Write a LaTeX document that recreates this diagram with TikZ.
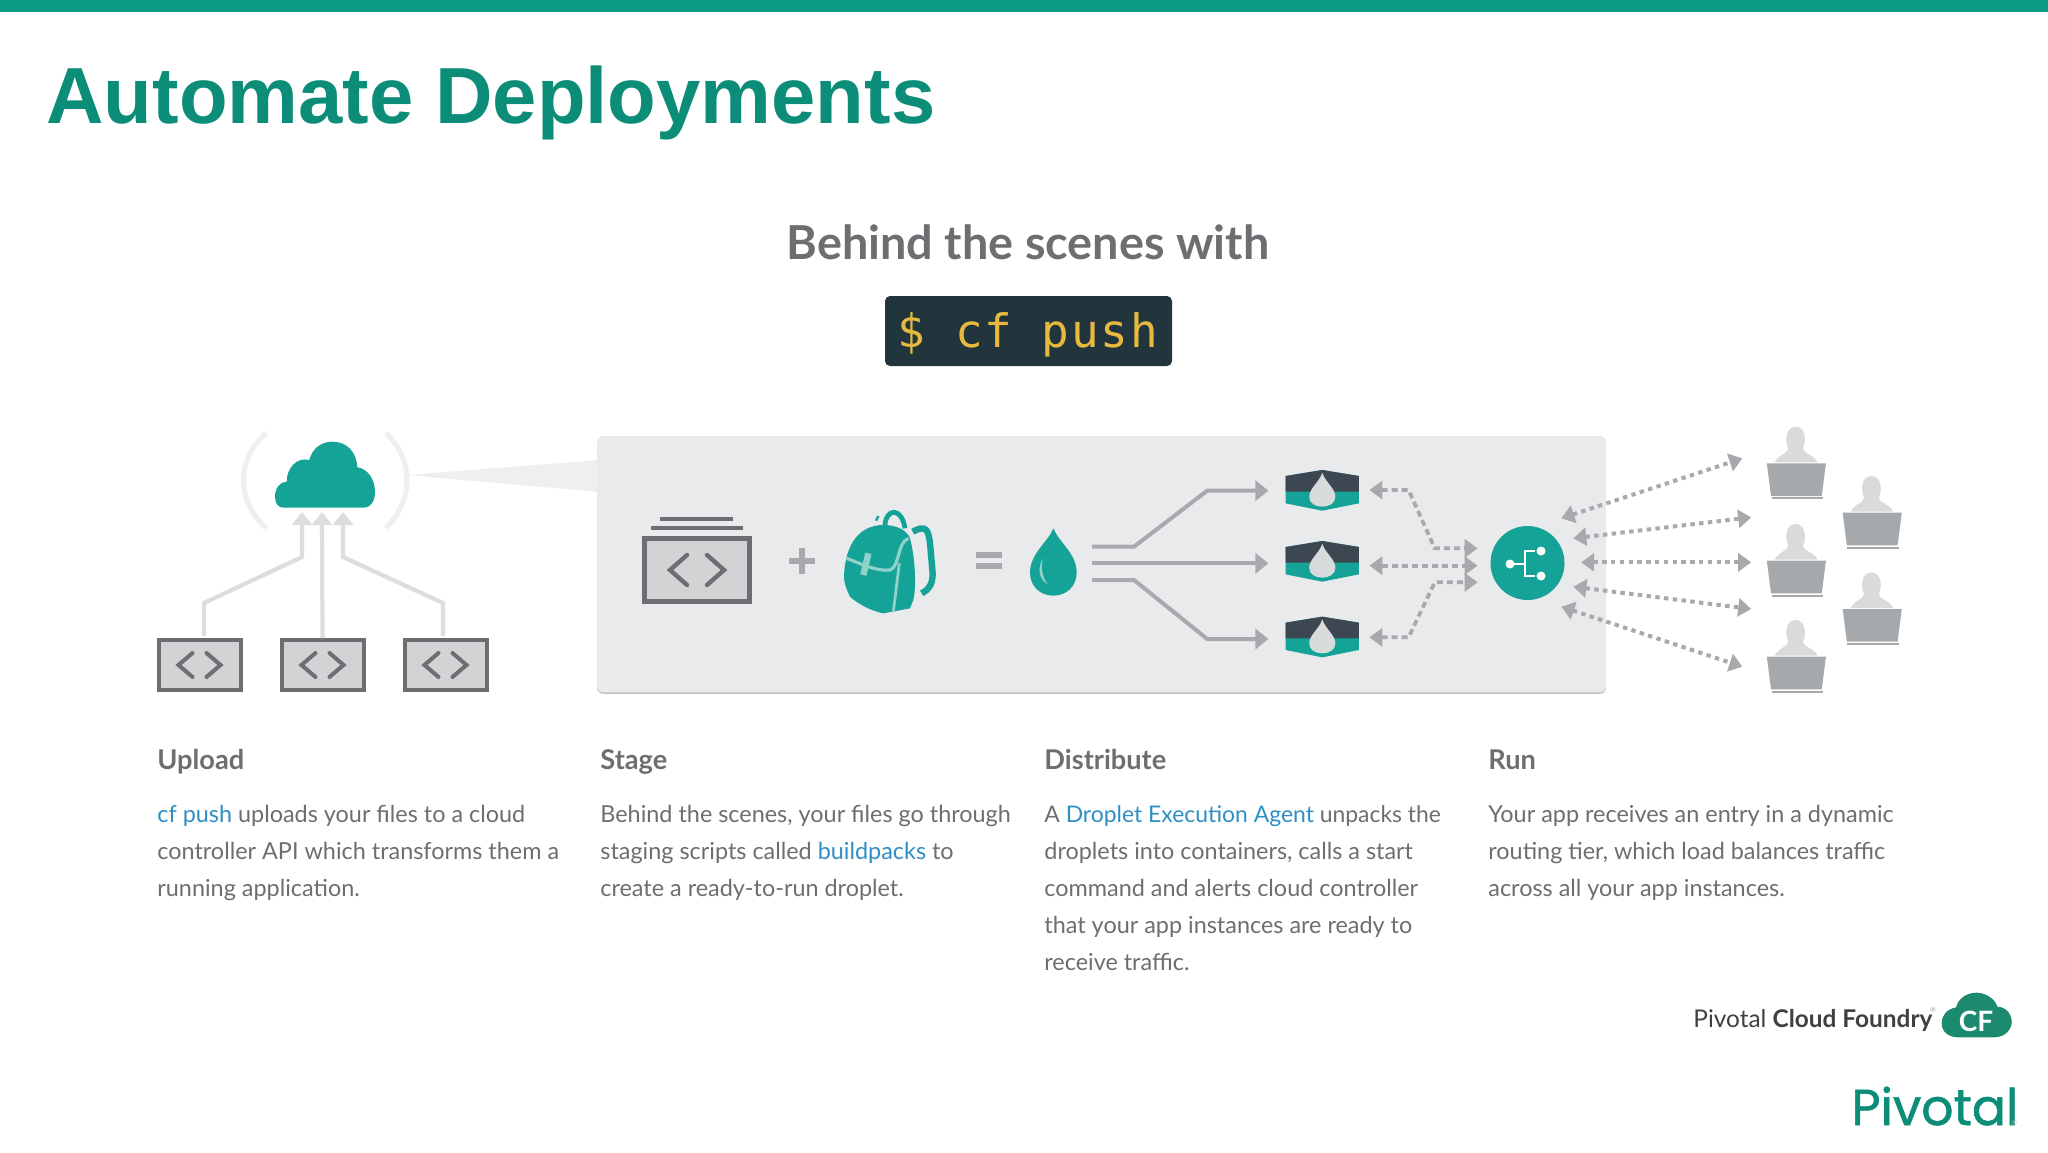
\documentclass[tikz,border=0pt]{standalone}
\usepackage{fontspec}
\setmainfont{Lato}
\newfontfamily\arialf{Liberation Sans}
\newfontfamily\monof[LetterSpace=4]{DejaVu Sans Mono}
\newfontfamily\logof[FakeBold=1.2]{Poppins}
\usetikzlibrary{arrows.meta}
\definecolor{barteal}{HTML}{0B9A84}
\definecolor{titleteal}{HTML}{0B8D78}
\definecolor{iconteal}{HTML}{16A397}
\definecolor{strapteal}{HTML}{8FD2CA}
\definecolor{bodygrey}{HTML}{6D6E71}
\definecolor{linkblue}{HTML}{2F8FC4}
\definecolor{panelgrey}{HTML}{E9EAEC}
\definecolor{panelline}{HTML}{C8C9CB}
\definecolor{wedgegrey}{HTML}{EEEFF0}
\definecolor{boxfill}{HTML}{D1D3D4}
\definecolor{flowgrey}{HTML}{DCDDDE}
\definecolor{midgrey}{HTML}{A7A9AC}
\definecolor{cubedark}{HTML}{3D4751}
\definecolor{cubedrop}{HTML}{D8DBDB}
\definecolor{laptopgrey}{HTML}{A5A9AC}
\definecolor{persongrey}{HTML}{D9DADB}
\definecolor{cmdbg}{HTML}{22343C}
\definecolor{cmdtext}{HTML}{E8B93F}
\definecolor{cfgreen}{HTML}{1C8A6E}
\definecolor{logodark}{HTML}{404040}
\tikzset{
  x=0.5pt,y=-0.5pt,
  bodyline/.style={anchor=base west,inner sep=0pt,text=bodygrey,font=\fontsize{11.7}{14}\selectfont},
  headline/.style={anchor=base west,inner sep=0pt,text=bodygrey,font=\fontsize{13.6}{15}\selectfont\bfseries},
  codebox/.style={draw=bodygrey,fill=boxfill,line width=2pt,minimum width=41pt,minimum height=25pt,inner sep=0pt},
  chev/.style={draw=bodygrey,line width=2pt,line cap=round},
  upflow/.style={draw=flowgrey,line width=2.1pt,-{Triangle[length=6.5pt,width=10pt]}},
  stageflow/.style={draw=midgrey,line width=2pt,-{Triangle[length=6.5pt,width=10pt]}},
  dashflow/.style={draw=midgrey,line width=1.9pt,dash pattern=on 3pt off 2pt,{Triangle[length=6.5pt,width=9pt]}-{Triangle[length=6.5pt,width=9pt]}},
  dotflow/.style={draw=midgrey,line width=2pt,dash pattern=on 2.2pt off 2.2pt,{Triangle[length=6.5pt,width=9pt]}-{Triangle[length=6.5pt,width=9pt]}},
}
\newcommand{\chevpair}[2]{%
  \draw[chev] (#1-7,#2-12) -- (#1-21,#2) -- (#1-7,#2+12);
  \draw[chev] (#1+7,#2-12) -- (#1+21,#2) -- (#1+7,#2+12);}
\begin{document}
\begin{tikzpicture}
\useasboundingbox (0,0) rectangle (2048,1152);
\fill[white] (0,0) rectangle (2048,1152);
\fill[barteal] (0,0) rectangle (2048,12);
\node[anchor=base west,inner sep=0pt,text=titleteal,font=\fontsize{39.8}{48}\selectfont\arialf\bfseries] (title) at (46,123) {Automate Deployments};
\node[anchor=base,inner sep=0pt,text=bodygrey,font=\fontsize{23.4}{26}\selectfont\bfseries] (behind) at (1028,259) {Behind the scenes with};
\node[fill=cmdbg,rounded corners=2.5pt,minimum width=143.5pt,minimum height=35pt,inner sep=0pt] (cmdbox) at (1028.5,331) {};
\node[anchor=base,inner sep=0pt,text=cmdtext,font=\fontsize{23}{26}\selectfont\monof] (cmd) at (1028,347) {\$ cf push};

% panel and wedge
\fill[wedgegrey] (407,475) -- (600,460) -- (600,492) -- cycle;
\draw[panelline,line width=1.2pt,rounded corners=3pt] (598,687) -- (598,693) -- (1605,693) -- (1605,687);
\fill[panelgrey,rounded corners=3pt] (597,436) rectangle (1606,692);

% upload
\draw[wedgegrey,line width=2.5pt] (266,433) .. controls (236,460) and (236,500) .. (266,528);
\draw[wedgegrey,line width=2.5pt] (386,433) .. controls (414,460) and (414,500) .. (386,528);
\begin{scope}[shift={(130,410)},scale=1/3]
\fill[iconteal] (460,293) -- (700,293) .. controls (725,293) and (735,270) .. (735,245) .. controls (735,205) and (710,175) .. (682,172) .. controls (680,125) and (650,95) .. (607,95) .. controls (570,95) and (545,120) .. (538,150) .. controls (500,140) and (470,175) .. (470,215) .. controls (450,215) and (435,235) .. (435,260) .. controls (435,280) and (445,293) .. (460,293) -- cycle;
\end{scope}
\coordinate (cloudl) at (302,512);
\coordinate (cloudm) at (322,512);
\coordinate (cloudr) at (343,512);
\node[codebox] (box1) at (199.5,665) {};
\node[codebox] (box2) at (322.5,665) {};
\node[codebox] (box3) at (445.5,665) {};
\chevpair{199.5}{665}
\chevpair{322.5}{665}
\chevpair{445.5}{665}
\coordinate (b1top) at (204,636);
\coordinate (b3top) at (443,636);
\draw[upflow] (b1top) -- (204,603) -- (302,557) -- (cloudl);
\draw[upflow] (box2.north) -- (cloudm);
\draw[upflow] (b3top) -- (443,603) -- (343,557) -- (cloudr);

% stage icons
\node[codebox,line width=2.3pt,minimum width=52.5pt,minimum height=31.5pt] (stagebox) at (697,570) {};
\draw[draw=bodygrey,line width=2pt] (660,519) -- (733,519) (651,528) -- (743,528);
\draw[chev,line width=2.2pt] (687,555) -- (670,570) -- (687,585);
\draw[chev,line width=2.2pt] (707,555) -- (724,570) -- (707,585);
\draw[midgrey,line width=3.3pt] (789,561) -- (815,561) (802,548) -- (802,574);
\draw[midgrey,line width=3.2pt] (976,555) -- (1002,555) (976,566) -- (1002,566);
\begin{scope}[shift={(620,430)},scale=1/3]
% backpack
\draw[iconteal,line width=2.4pt] (795,285) .. controls (798,235) and (845,230) .. (855,295);
\draw[iconteal,line width=3.2pt] (878,305) .. controls (915,285) and (925,295) .. (930,340) -- (938,430) .. controls (938,465) and (925,480) .. (905,490);
\fill[iconteal] (672,440) .. controls (675,340) and (720,285) .. (790,285) .. controls (830,285) and (860,300) .. (870,325) .. controls (885,380) and (890,470) .. (880,510) -- (870,535) -- (790,550) .. controls (740,540) and (700,510) .. (690,500) .. controls (680,480) and (672,460) .. (672,440) -- cycle;
\draw[strapteal,line width=1.6pt] (680,385) .. controls (720,400) and (770,425) .. (810,420) .. controls (840,410) and (830,340) .. (865,325);
\draw[strapteal,line width=1.4pt] (838,400) -- (820,545);
\draw[strapteal,line width=3.2pt] (745,370) -- (730,435);
\draw[iconteal,line width=1.2pt] (775,258) -- (768,272);
% droplet
\fill[iconteal] (1300,295) .. controls (1285,335) and (1230,370) .. (1230,428) .. controls (1230,470) and (1262,497) .. (1300,497) .. controls (1338,497) and (1370,470) .. (1370,428) .. controls (1370,370) and (1315,335) .. (1300,295) -- cycle;
\fill[strapteal] (1268,385) .. controls (1250,420) and (1260,450) .. (1282,462) .. controls (1268,440) and (1262,420) .. (1268,385) -- cycle;
\end{scope}

% distribute
\begin{scope}[shift={(1100,420)},xscale=1/1.912,yscale=1/3]
\coordinate (feedt) at (-15,380);
\coordinate (feedm) at (-15,430);
\coordinate (feedb) at (-15,480);
\coordinate (cin1) at (322,212);
\coordinate (cin2) at (322,430);
\coordinate (cin3) at (322,657);
\draw[stageflow] (feedt) -- (65,380) -- (205,212) -- (cin1);
\draw[stageflow] (feedm) -- (cin2);
\draw[stageflow] (feedb) -- (65,480) -- (205,657) -- (cin3);
\foreach \dy in {0,213,440}{
\begin{scope}[yshift=\dy*-0.5pt]
\fill[iconteal] (425,150) -- (495,168) -- (495,250) -- (425,272) -- (355,250) -- (355,168) -- cycle;
\fill[cubedark] (425,150) -- (495,168) -- (495,215) -- (355,215) -- (355,168) -- cycle;
\fill[cubedrop] (425,158) .. controls (420,185) and (400,205) .. (400,230) .. controls (400,250) and (412,260) .. (425,260) .. controls (438,260) and (450,250) .. (450,230) .. controls (450,205) and (430,185) .. (425,158) -- cycle;
\end{scope}}
\coordinate (cout1) at (515,210);
\coordinate (cout2) at (515,437);
\coordinate (cout3) at (515,652);
\coordinate (rin1) at (722,385);
\coordinate (rin2) at (722,437);
\coordinate (rin3) at (722,487);
\draw[dashflow] (cout1) -- (590,210) -- (640,385) -- (rin1);
\draw[dashflow] (cout2) -- (rin2);
\draw[dashflow] (cout3) -- (590,652) -- (640,487) -- (rin3);
% router end points
\coordinate (rout1) at (882,295);
\coordinate (rout2) at (905,355);
\coordinate (rout3) at (920,427);
\coordinate (rout4) at (905,500);
\coordinate (rout5) at (882,560);
\coordinate (u1) at (1228,115);
\coordinate (u2) at (1245,292);
\coordinate (u3) at (1245,427);
\coordinate (u4) at (1245,567);
\coordinate (u5) at (1228,740);
\draw[dotflow] (rout1) -- (u1);
\draw[dotflow] (rout2) -- (u2);
\draw[dotflow] (rout3) -- (u3);
\draw[dotflow] (rout4) -- (u4);
\draw[dotflow] (rout5) -- (u5);
% users
\foreach \ux/\uy in {0/0,145/148,0/292,145/437,0/580}{
\begin{scope}[xshift=\ux*0.5pt,yshift=\uy*-0.5pt]
\fill[persongrey] (1330,20) .. controls (1312,20) and (1308,60) .. (1316,85) .. controls (1316,100) and (1296,105) .. (1290,127) -- (1372,127) .. controls (1366,105) and (1344,100) .. (1344,85) .. controls (1352,60) and (1348,20) .. (1330,20) -- cycle;
\fill[laptopgrey] (1275,130) -- (1388,130) -- (1380,228) -- (1283,228) -- cycle;
\fill[laptopgrey] (1284,232) rectangle (1382,238);
\end{scope}}
\end{scope}
\node[circle,fill=iconteal,minimum size=37pt,inner sep=0pt] (router) at (1527.5,563) {};
\fill[white] (1510,564) circle (4.5);
\fill[white] (1541,551) circle (4.5);
\fill[white] (1541,576) circle (4.5);
\draw[white,line width=1.1pt] (1514,564) -- (1524,564) (1535,551) -- (1525,551) -- (1525,576) -- (1535,576);

% captions
\node[headline] (hupload) at (157,769) {Upload};
\node[bodyline] (u1a) at (157,822) {\textcolor{linkblue}{cf push} uploads your files to a cloud};
\node[bodyline] (u1b) at (157,859) {controller API which transforms them a};
\node[bodyline] (u1c) at (157,896) {running application.};
\node[headline] (hstage) at (600,769) {Stage};
\node[bodyline] (s1a) at (600,822) {Behind the scenes, your files go through};
\node[bodyline] (s1b) at (600,859) {staging scripts called \textcolor{linkblue}{buildpacks} to};
\node[bodyline] (s1c) at (600,896) {create a ready-to-run droplet.};
\node[headline] (hdist) at (1044,769) {Distribute};
\node[bodyline,font=\fontsize{11.45}{14}\selectfont] (d1a) at (1044,822) {A \textcolor{linkblue}{Droplet Execution Agent} unpacks the};
\node[bodyline] (d1b) at (1044,859) {droplets into containers, calls a start};
\node[bodyline] (d1c) at (1044,896) {command and alerts cloud controller};
\node[bodyline] (d1d) at (1044,933) {that your app instances are ready to};
\node[bodyline] (d1e) at (1044,970) {receive traffic.};
\node[headline] (hrun) at (1488,769) {Run};
\node[bodyline] (r1a) at (1488,822) {Your app receives an entry in a dynamic};
\node[bodyline] (r1b) at (1488,859) {routing tier, which load balances traffic};
\node[bodyline] (r1c) at (1488,896) {across all your app instances.};

% logos
\node[anchor=base west,inner sep=0pt,text=logodark,font=\fontsize{12.2}{14}\selectfont] (pcf) at (1693,1027) {Pivotal \textbf{Cloud Foundry}};
\node[inner sep=0pt,text=midgrey,font=\fontsize{3.5}{4}\selectfont] (pcfr) at (1933,1010) {®};
\begin{scope}[shift={(1660,980)},scale=1/3]
\fill[cfgreen] (895,172) -- (1000,172) .. controls (1040,172) and (1055,145) .. (1055,125) .. controls (1055,100) and (1035,80) .. (1012,80) .. controls (1005,55) and (975,38) .. (950,38) .. controls (920,38) and (895,55) .. (888,82) .. controls (860,88) and (845,105) .. (845,130) .. controls (845,155) and (865,172) .. (895,172) -- cycle;
\end{scope}
\node[inner sep=0pt,text=white,font=\fontsize{14}{16}\selectfont\bfseries] (cf) at (1976,1021) {CF};
\node[anchor=base west,inner sep=0pt,text=titleteal,font=\fontsize{25.2}{30}\selectfont\logof] (plogo) at (1851,1125) {Pivotal};
\node[inner sep=0pt,text=midgrey,font=\fontsize{3.5}{4}\selectfont] (plogor) at (2014,1123) {®};
\end{tikzpicture}
\end{document}
